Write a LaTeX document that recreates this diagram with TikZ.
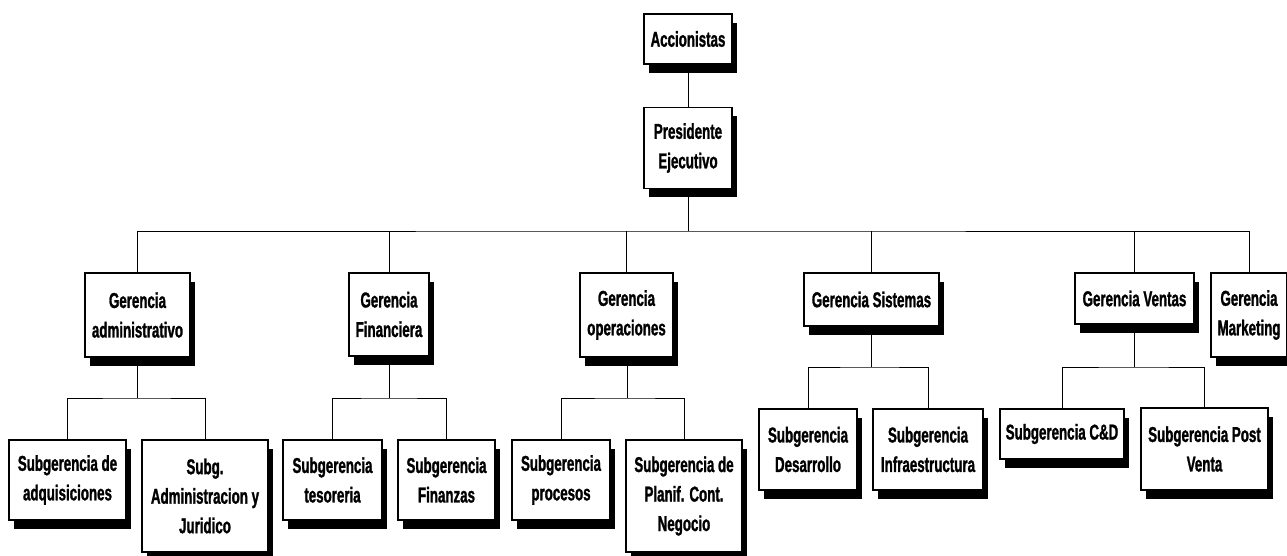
\documentclass[tikz,border=0pt]{standalone}
\usepackage{fontspec}
\newfontfamily\cajafont[FakeStretch=0.62,FakeBold=1.2]{Liberation Sans}
\usetikzlibrary{shadows}

\tikzset{
    caja/.style 2 args={draw, fill=white, line width=1.2pt, align=center,
        minimum width=#1pt, minimum height=#2pt, inner sep=0pt,
        font=\cajafont\bfseries\fontsize{21.5}{29.5}\selectfont,
        drop shadow={shadow xshift=5pt, shadow yshift=-9pt, opacity=1, fill=black}},
    linea/.style={line width=1pt}
}

\begin{document}
\begin{tikzpicture}[x=1pt,y=-1pt]
        \useasboundingbox (0,0) rectangle (1287,556);
        \clip (0,0) rectangle (1287,556);
        % nivel superior
        \node[caja={88}{50}] (acc) at (688,39) {Accionistas};
        \node[caja={88}{81}] (pres) at (688,148) {Presidente\\Ejecutivo};
        % gerencias
        \node[caja={105}{84}] (gadm) at (137.5,315) {Gerencia\\administrativo};
        \node[caja={80}{83}] (gfin) at (389,314.5) {Gerencia\\Financiera};
        \node[caja={93}{84}] (gope) at (626.5,315) {Gerencia\\operaciones};
        \node[caja={135}{53}] (gsis) at (871.5,299.5) {Gerencia Sistemas};
        \node[caja={119}{51}] (gven) at (1134.5,298.5) {Gerencia Ventas};
        \node[caja={76}{84}] (gmkt) at (1249,315) {Gerencia\\Marketing};
        % subgerencias
        \node[caja={117}{80}] (sadq) at (67.5,480) {Subgerencia de\\adquisiciones};
        \node[caja={126}{112}] (sjur) at (205,496) {Subg.\\Administracion y\\Juridico};
        \node[caja={99}{80}] (stes) at (332.5,480) {Subgerencia\\tesoreria};
        \node[caja={97}{80}] (sfin) at (446.5,480) {Subgerencia\\Finanzas};
        \node[caja={98}{80}] (spro) at (561,480) {Subgerencia\\procesos};
        \node[caja={116}{112}] (spla) at (684,496) {Subgerencia de\\Planif. Cont.\\Negocio};
        \node[caja={98}{81}] (sdes) at (808,449.5) {Subgerencia\\Desarrollo};
        \node[caja={110}{81}] (sinf) at (928,449.5) {Subgerencia\\Infraestructura};
        \node[caja={124}{50}] (scd) at (1062,434) {Subgerencia C\&D};
        \node[caja={127}{82}] (spv) at (1204.5,449) {Subgerencia Post\\Venta};
        % puntos de union
        \coordinate (bus) at (688,231);
        \coordinate (jadm) at (137,398);
        \coordinate (jfin) at (389,398);
        \coordinate (jope) at (627,398);
        \coordinate (jsis) at (871,367);
        \coordinate (jven) at (1134,367);
        % conexiones
        \begin{scope}[linea]
        \draw (acc) -- (pres);
        \draw (pres) -- (bus);
        \draw (gadm.north -| jadm) |- (bus) -| (gmkt.north);
        \foreach \g in {gfin,gope,gsis,gven}
            \draw (\g.north) -- (\g.north |- bus);
        \draw (gadm.south -| jadm) -- (jadm);
        \draw (sadq.north) |- (jadm) -| (sjur.north);
        \draw (gfin) -- (jfin);
        \draw (stes.north) |- (jfin) -| (sfin.north);
        \draw (gope.south -| jope) -- (jope);
        \draw (spro.north) |- (jope) -| (spla.north);
        \draw (gsis.south -| jsis) -- (jsis);
        \draw (sdes.north) |- (jsis) -| (sinf.north);
        \draw (gven.south -| jven) -- (jven);
        \draw (scd.north) |- (jven) -| (spv.north);
        \end{scope}
    \end{tikzpicture}
\end{document}
